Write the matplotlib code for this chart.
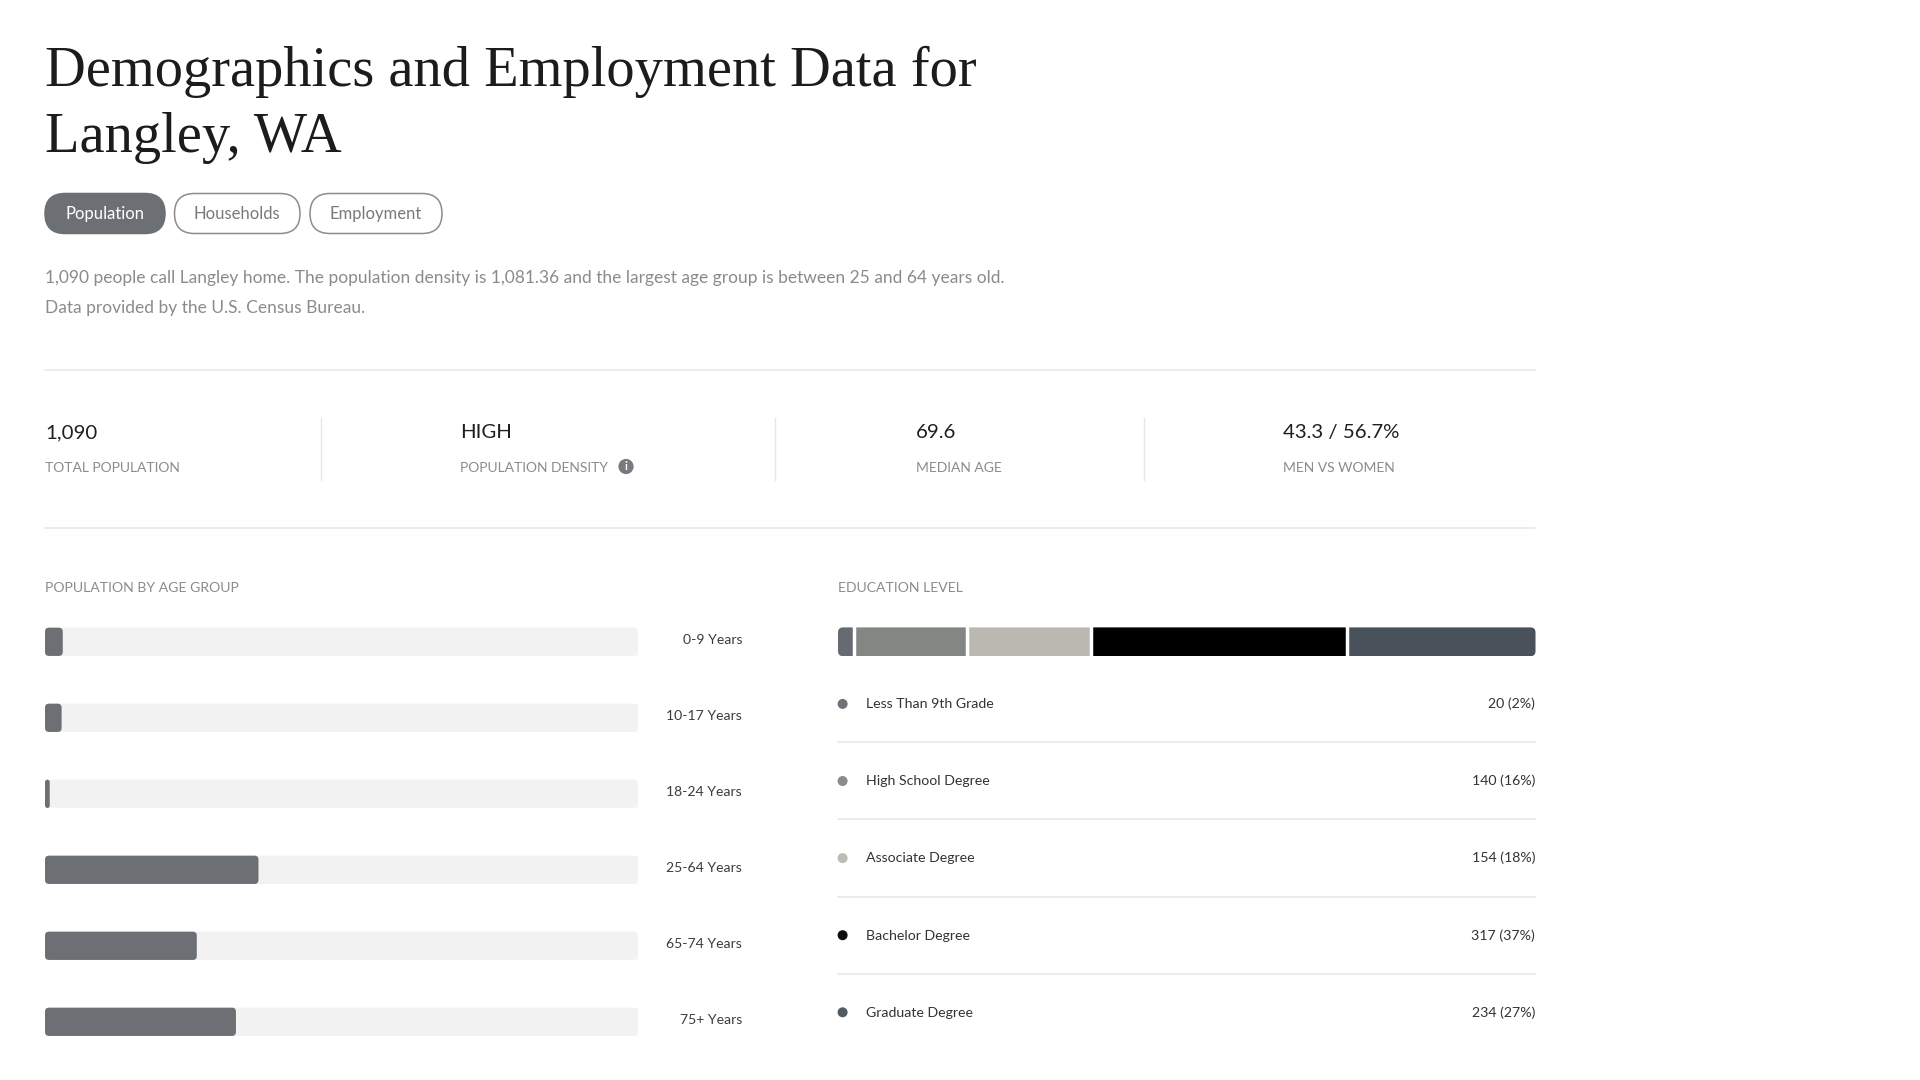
import matplotlib
matplotlib.use('Agg')
import matplotlib.pyplot as plt
from matplotlib.patches import FancyBboxPatch, Circle
from matplotlib.transforms import IdentityTransform, blended_transform_factory

plt.rcParams['font.family'] = ['Lato', 'DejaVu Sans']

# data
title_lines = ['Demographics and Employment Data for', 'Langley, WA']
tabs = ['Population', 'Households', 'Employment']
intro_lines = ['1,090 people call Langley home. The population density is 1,081.36 and the largest age group is between 25 and 64 years old.',
               'Data provided by the U.S. Census Bureau.']
stat_values = ['1,090', 'HIGH', '69.6', '43.3 / 56.7%']
stat_names = ['TOTAL POPULATION', 'POPULATION DENSITY', 'MEDIAN AGE', 'MEN VS WOMEN']

age_groups = ['0-9 Years', '10-17 Years', '18-24 Years', '25-64 Years', '65-74 Years', '75+ Years']
age_share = [3.0, 2.8, 0.8, 36.0, 25.6, 32.2]

edu_levels = ['Less Than 9th Grade', 'High School Degree', 'Associate Degree', 'Bachelor Degree', 'Graduate Degree']
edu_counts = [20, 140, 154, 317, 234]
edu_pct = [2, 16, 18, 37, 27]
edu_colors = ['#666b73', '#848684', '#b9b9b1', '#000000', '#49515a']

W, H = 1920, 1080
GREY_BAR = '#6c7075'
RULE = '#e6e6e6'


def ax_at(left, top, right, bottom):
    return fig.add_axes([left / W, 1 - bottom / H, (right - left) / W, (bottom - top) / H])


fig = plt.figure(figsize=(19.2, 10.8), dpi=100, facecolor='white')

# page layer, in pixels
page = ax_at(0, 0, W, H)
page.set_xlim(0, W)
page.set_ylim(H, 0)
page.axis('off')

title_y = [72, 138]
for line, y in zip(title_lines, title_y):
    page.text(45, y, line, family=['Liberation Serif'], fontsize=40.7, color='#1c1c1c', va='center')

tab_edges = [(45, 165), (174.5, 300), (310, 442)]
for i, (name, (x0, x1)) in enumerate(zip(tabs, tab_edges)):
    active = i == 0
    pill = FancyBboxPatch((x0, 193.5), x1 - x0, 40, boxstyle='round,pad=0,rounding_size=20',
                          fc=GREY_BAR if active else 'white', ec=GREY_BAR if active else '#8c8c8c', lw=1.1)
    page.add_patch(pill)
    page.text((x0 + x1) / 2, 214, name, fontsize=12, color='white' if active else '#77797c',
              ha='center', va='center')

for line, y in zip(intro_lines, [278, 307.5]):
    page.text(45, y, line, fontsize=12.5, color='#8b8b8b', va='center')

page.plot([45, 1535], [369.7, 369.7], color=RULE, lw=1.1)
page.plot([45, 1535], [527.8, 527.8], color=RULE, lw=1.1)

stat_x = [45, 460, 916, 1283]
for x, val, name in zip(stat_x, stat_values, stat_names):
    page.text(x, 438.3, val, fontsize=14.7, color='#1e1e1e', va='baseline')
    page.text(x, 467.5, name, fontsize=10, color='#8b8b8b', va='center')
for x in [321, 775, 1143.5]:
    page.plot([x, x], [417.5, 479.5], color=RULE, lw=1)

page.add_patch(Circle((626, 466.5), 7.6, fc='#777a7e', ec='none'))
page.text(626, 466.5, 'i', fontsize=8, fontweight='bold', color='white', ha='center', va='center')

page.text(45, 587.5, 'POPULATION BY AGE GROUP', fontsize=10.1, color='#8b8b8b', va='center')
page.text(838, 587.5, 'EDUCATION LEVEL', fontsize=10.1, color='#8b8b8b', va='center')

# age group bars
ax_age = ax_at(45, 603.8, 638, 1059.8)
ax_age.set_xlim(0, 100)
ax_age.set_ylim(len(age_groups) - 0.5, -0.5)
ax_age.axis('off')
ypos = list(range(len(age_groups)))
track = ax_age.barh(ypos, [100] * len(age_groups), height=0.372, color='#f2f2f2')
bars = ax_age.barh(ypos, age_share, height=0.372, color=GREY_BAR)
for b in list(track) + list(bars):
    # swap the square bar for a rounded one of the same size
    box = b.get_window_extent()
    r = min(4, box.width / 2)
    fig.add_artist(FancyBboxPatch((box.x0, box.y0), box.width, box.height,
                                  boxstyle=f'round,pad=0,rounding_size={r}',
                                  fc=b.get_facecolor(), ec='none', transform=IdentityTransform()))
    b.set_visible(False)
lab_tr = blended_transform_factory(ax_age.transAxes, ax_age.transData)
for y, name in zip(ypos, age_groups):
    ax_age.text(1.1754, y + 0.033, name, transform=lab_tr, fontsize=10.05, color='#3c3c3c',
                ha='right', va='baseline')

# education stacked bar
ax_edu = ax_at(838, 627.4, 1535.5, 656.2)
ax_edu.set_xlim(0, sum(edu_counts))
ax_edu.set_ylim(-0.5, 0.5)
ax_edu.axis('off')
outer = ax_edu.get_window_extent()
clip = FancyBboxPatch((outer.x0, outer.y0), outer.width, outer.height,
                      boxstyle='round,pad=0,rounding_size=5', transform=IdentityTransform())
left = 0
for count, col in zip(edu_counts, edu_colors):
    seg = ax_edu.barh(0, count, left=left, height=1, color=col)
    seg[0].set_clip_path(clip)
    left += count
    # white gap between segments
    if left < sum(edu_counts):
        ax_edu.axvline(left, color='white', lw=2.5, zorder=3)

# education legend rows
row_y = [703.7, 780.8, 857.9, 935, 1012.1]
rule_y = [742.3, 819.4, 896.5, 973.6]
for y, name, count, pct, col in zip(row_y, edu_levels, edu_counts, edu_pct, edu_colors):
    page.add_patch(Circle((842.6, y + 0.2), 5, fc=col, ec='none', alpha=0.95))
    page.text(866, y + 4.6, name, fontsize=10.2, color='#333333', va='baseline')
    page.text(1535, y + 4.6, f'{count} ({pct}%)', fontsize=10.2, color='#333333', ha='right', va='baseline')
for y in rule_y:
    page.plot([838, 1535], [y, y], color=RULE, lw=1.1)

fig.savefig('out.png', dpi=100, facecolor='white')
